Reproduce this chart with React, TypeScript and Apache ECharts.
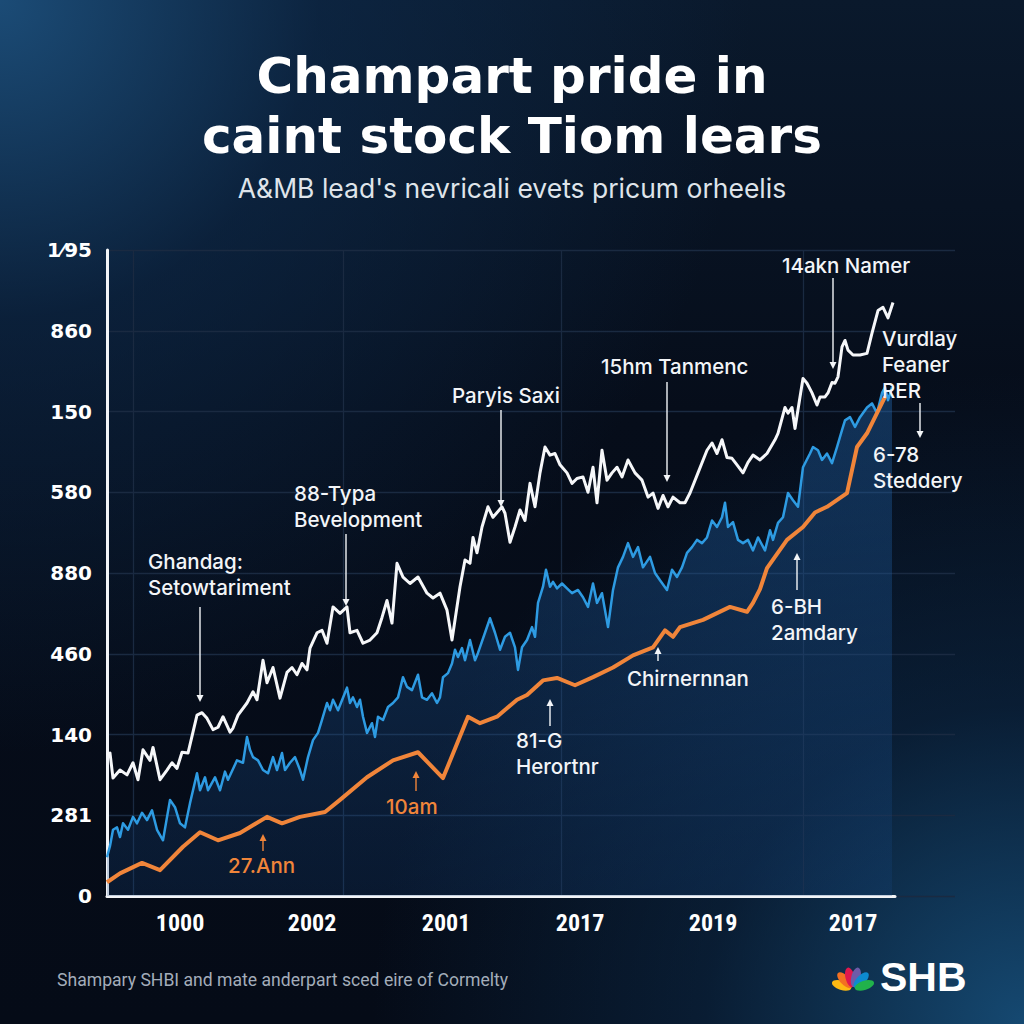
import React, { useEffect, useRef } from 'react';
import * as echarts from 'echarts';

// ---------- texts ----------
const titleLines = ['Champart pride in', 'caint stock Tiom lears'];
const subtitleText = "A&MB lead's nevricali evets pricum orheelis";
const footerText = 'Shampary SHBI and mate anderpart sced eire of Cormelty';
const brandText = 'SHB';

// ---------- axes ----------
const yTickLabels = ['0', '281', '140', '460', '880', '580', '150', '860', '1⁄95'];
const xTickValues = [73, 205, 339, 473, 606, 746];
const xTickLabels = ['1000', '2002', '2001', '2017', '2019', '2017'];
const xGridValues = [26, 236, 454, 696];

// ---------- series values [x, y] ----------
const whiteSeries = [
  [0,175],[3,177],[6,146],[13,156],[20,150],[26,165],[31,144],[36,181],[43,168],[46,184],[53,144],[60,156],[65,165],[70,158],[75,178],[81,177],[90,224],[95,227],[100,220],[106,206],[111,209],[116,222],[123,203],[126,208],[131,224],[140,239],[146,253],[150,243],[156,292],[160,264],[166,283],[173,245],[180,277],[185,283],[190,274],[195,288],[200,280],[203,307],[210,326],[215,329],[220,313],[226,358],[233,350],[240,358],[243,326],[250,329],[256,313],[263,317],[270,326],[275,345],[280,366],[285,338],[290,412],[296,395],[303,387],[311,395],[320,375],[326,369],[333,375],[340,354],[345,317],[353,383],[358,416],[363,412],[366,444],[370,425],[375,457],[381,482],[386,469],[395,482],[398,474],[403,438],[408,457],[413,478],[418,465],[423,511],[428,482],[433,524],[438,556],[443,546],[448,548],[453,534],[460,524],[465,511],[470,517],[476,519],[481,500],[486,531],[490,487],[495,552],[500,515],[505,524],[510,531],[515,519],[521,540],[528,524],[535,515],[541,494],[546,499],[551,480],[556,496],[561,482],[566,494],[573,487],[578,487],[583,499],[591,524],[600,552],[605,561],[610,548],[615,565],[620,543],[625,542],[630,534],[636,524],[641,537],[646,546],[653,540],[660,548],[668,565],[671,573],[678,605],[681,598],[685,605],[688,579],[693,618],[696,641],[700,635],[705,623],[710,608],[713,618],[718,618],[721,623],[725,636],[728,635],[731,643],[735,680],[738,688],[741,676],[746,670],[753,670],[760,672],[765,697],[771,725],[776,729],[781,716],[786,735]
];

const blueSeries = [
  [0,48],[3,62],[6,82],[10,85],[13,73],[16,90],[21,82],[26,98],[30,90],[35,103],[40,94],[45,106],[50,82],[56,69],[63,119],[68,110],[73,90],[78,85],[83,115],[90,152],[93,131],[98,147],[101,131],[108,147],[113,131],[118,154],[121,144],[130,168],[136,165],[140,197],[143,181],[146,172],[151,168],[156,156],[161,152],[166,172],[170,156],[175,177],[178,156],[183,165],[188,172],[193,156],[196,144],[201,172],[206,193],[211,202],[215,218],[220,239],[223,230],[226,243],[231,230],[240,258],[243,239],[246,246],[250,234],[253,243],[256,222],[260,202],[265,214],[268,197],[271,222],[276,218],[281,234],[286,239],[291,246],[296,271],[300,259],[305,255],[311,274],[315,246],[320,243],[325,251],[330,239],[333,246],[336,271],[341,276],[345,288],[348,305],[351,296],[355,307],[358,292],[363,317],[368,292],[371,301],[378,326],[383,344],[388,326],[393,305],[398,321],[403,326],[408,308],[411,280],[415,308],[420,317],[425,333],[428,321],[431,363],[436,383],[439,404],[443,383],[446,389],[450,381],[455,387],[460,381],[465,375],[471,379],[476,370],[481,358],[486,387],[490,363],[495,375],[501,333],[506,379],[511,407],[516,420],[521,437],[526,420],[531,432],[536,407],[543,420],[548,400],[553,391],[560,379],[565,404],[570,395],[575,407],[580,425],[585,432],[590,441],[595,437],[600,444],[605,465],[610,457],[615,469],[618,487],[621,457],[626,463],[631,441],[636,437],[641,441],[646,428],[651,444],[658,428],[663,453],[666,441],[671,462],[676,469],[681,499],[686,490],[691,482],[696,531],[703,548],[706,556],[711,552],[715,540],[720,548],[725,536],[730,556],[735,577],[738,589],[743,593],[748,581],[753,593],[760,605],[765,610],[770,598],[775,623],[778,630],[781,614],[785,630]
];

const orangeSeries = [
  [0,17],[13,28],[35,41],[53,32],[76,61],[93,79],[111,69],[133,78],[160,98],[175,90],[193,98],[218,104],[233,119],[260,147],[286,168],[311,178],[336,146],[361,222],[373,214],[390,222],[410,243],[420,249],[436,267],[450,270],[468,261],[486,271],[506,283],[526,298],[546,308],[558,329],[566,321],[573,333],[596,342],[623,358],[640,352],[646,363],[653,380],[660,406],[680,441],[696,457],[708,475],[720,482],[740,499],[750,556],[760,573],[778,618]
];

// ---------- annotations (layout) ----------
type Note = { text: string; x: number; y: number; color: string; arrow?: [number, number, number] };
const WHITE = '#f3f5f8';
const ORANGE = '#f0853a';
const notes: Note[] = [
  { text: 'Ghandag:\nSetowtariment', x: 148, y: 561, color: WHITE, arrow: [200, 607, 702] },
  { text: '88-Typa\nBevelopment', x: 294, y: 493, color: WHITE, arrow: [346, 534, 606] },
  { text: 'Paryis Saxi', x: 452, y: 395, color: WHITE, arrow: [501, 410, 507] },
  { text: '15hm Tanmenc', x: 601, y: 366, color: WHITE, arrow: [667, 382, 482] },
  { text: '14akn Namer', x: 782, y: 265, color: WHITE, arrow: [833, 278, 369] },
  { text: 'Vurdlay\nFeaner\nRER', x: 882, y: 338, color: WHITE, arrow: [920, 403, 438] },
  { text: '6-78\nSteddery', x: 873, y: 454, color: WHITE },
  { text: '6-BH\n2amdary', x: 771, y: 606, color: WHITE, arrow: [797, 590, 553] },
  { text: 'Chirnernnan', x: 627, y: 678, color: WHITE, arrow: [658, 661, 647] },
  { text: '81-G\nHerortnr', x: 516, y: 740, color: WHITE, arrow: [550, 726, 699] },
  { text: '10am', x: 386, y: 806, color: ORANGE, arrow: [416, 791, 771] },
  { text: '27.Ann', x: 228, y: 865, color: ORANGE, arrow: [263, 851, 834] },
];

const peacockColors = ['#fdb913', '#f37021', '#e0184d', '#6e5ba8', '#0d8ad0', '#21b24b'];
const peacockAngles = [-72, -43, -14, 14, 43, 72];

function buildGraphics() {
  const g: any[] = [];
  const annoFont = 'Inter, "Noto Sans", sans-serif';
  const lh = 26;
  notes.forEach((n) => {
    g.push({
      type: 'text',
      x: n.x,
      y: n.y - lh / 2,
      z: 10,
      style: {
        text: n.text,
        fill: n.color,
        fontFamily: annoFont,
        fontSize: 20.5,
        fontWeight: 500,
        lineHeight: lh,
        align: 'left',
        verticalAlign: 'top',
      },
    });
    if (n.arrow) {
      const [ax, y1, y2] = n.arrow;
      const dir = y2 > y1 ? 1 : -1;
      g.push({
        type: 'line',
        z: 10,
        shape: { x1: ax, y1, x2: ax, y2: y2 - dir * 5 },
        style: { stroke: n.color, lineWidth: 1.4 },
      });
      g.push({
        type: 'polygon',
        z: 10,
        shape: { points: [[ax - 3.5, y2 - dir * 7], [ax + 3.5, y2 - dir * 7], [ax, y2]] },
        style: { fill: n.color },
      });
    }
  });

  // title: two separate lines
  titleLines.forEach((t, i) => {
    g.push({
      type: 'text',
      x: 512,
      y: 76 + i * 60,
      style: {
        text: t,
        fill: '#ffffff',
        fontFamily: '"DejaVu Sans", sans-serif',
        fontWeight: 700,
        fontSize: 50,
        align: 'center',
        verticalAlign: 'middle',
      },
    });
  });
  g.push({
    type: 'text',
    x: 512,
    y: 188,
    style: {
      text: subtitleText,
      fill: '#dfe4ea',
      fontFamily: 'Inter, "Liberation Sans", sans-serif',
      fontWeight: 400,
      fontSize: 26.5,
      align: 'center',
      verticalAlign: 'middle',
    },
  });
  g.push({
    type: 'text',
    x: 57,
    y: 980,
    style: {
      text: footerText,
      fill: '#a3adba',
      fontFamily: 'Roboto, sans-serif',
      fontSize: 17.6,
      align: 'left',
      verticalAlign: 'middle',
    },
  });
  // brand
  const bx = 853, by = 989;
  peacockAngles.forEach((a, i) => {
    const r = (a * Math.PI) / 180;
    g.push({
      type: 'ellipse',
      x: bx + 12 * Math.sin(r),
      y: by - 12 * Math.cos(r),
      rotation: -r,
      shape: { cx: 0, cy: 0, rx: 4.6, ry: 10 },
      style: { fill: peacockColors[i] },
    });
  });
  g.push({
    type: 'text',
    x: 880,
    y: 977,
    style: {
      text: brandText,
      fill: '#ffffff',
      fontFamily: '"Liberation Sans", Arial, sans-serif',
      fontWeight: 700,
      fontSize: 41,
      align: 'left',
      verticalAlign: 'middle',
    },
  });
  return g;
}

export default function App() {
  const ref = useRef<HTMLDivElement>(null);
  useEffect(() => {
    if (!ref.current) return;
    const chart = echarts.init(ref.current, undefined, { renderer: 'svg' });
    const gridColor = '#1a2a41';
    chart.setOption({
      animation: false,
      backgroundColor: 'transparent',
      grid: [
        { left: 107, top: 250, width: 788, height: 646 },
        { left: 107, top: 250, width: 848, height: 646 },
      ],
      xAxis: [
        {
          gridIndex: 0,
          type: 'value',
          min: 0,
          max: 788,
          axisLine: { show: true, lineStyle: { color: '#f2f4f7', width: 3 } },
          axisTick: { show: false, customValues: xGridValues },
          splitLine: { show: true, lineStyle: { color: gridColor, width: 1.3 } },
          axisLabel: {
            customValues: xTickValues,
            formatter: (v: number) => {
              const i = xTickValues.indexOf(v);
              return i >= 0 ? xTickLabels[i] : '';
            },
            color: '#ffffff',
            fontFamily: '"Liberation Sans Narrow", "Roboto Condensed", Roboto, sans-serif',
            fontWeight: 'bold',
            fontSize: 24,
            margin: 15,
          },
        },
        { gridIndex: 1, type: 'value', min: 0, max: 1, show: false },
      ],
      yAxis: [
        {
          gridIndex: 0,
          type: 'value',
          min: 0,
          max: 800,
          interval: 100,
          axisLine: { show: true, lineStyle: { color: '#f2f4f7', width: 3 } },
          axisTick: { show: false },
          splitLine: { show: false },
          axisLabel: {
            formatter: (v: number) => yTickLabels[Math.round(v / 100)] ?? '',
            color: '#ffffff',
            fontFamily: '"DejaVu Sans", sans-serif',
            fontWeight: 'bold',
            fontSize: 20,
            margin: 15,
          },
        },
        {
          gridIndex: 1,
          type: 'value',
          min: 0,
          max: 800,
          interval: 100,
          axisLine: { show: false },
          axisTick: { show: false },
          axisLabel: { show: false },
          splitLine: { show: true, lineStyle: { color: gridColor, width: 1.3 } },
        },
      ],
      series: [
        {
          type: 'line',
          xAxisIndex: 0,
          yAxisIndex: 0,
          data: blueSeries,
          symbol: 'none',
          z: 3,
          lineStyle: { color: '#2e9be2', width: 2.5, join: 'round' },
          areaStyle: {
            color: new echarts.graphic.LinearGradient(0, 0, 0, 1, [
              { offset: 0, color: 'rgba(38,115,195,0.52)' },
              { offset: 1, color: 'rgba(22,70,130,0.32)' },
            ]),
          },
        },
        {
          type: 'line',
          xAxisIndex: 0,
          yAxisIndex: 0,
          data: whiteSeries,
          symbol: 'none',
          z: 4,
          lineStyle: { color: '#f6f7f9', width: 3, join: 'round' },
        },
        {
          type: 'line',
          xAxisIndex: 0,
          yAxisIndex: 0,
          data: orangeSeries,
          symbol: 'none',
          z: 5,
          lineStyle: { color: '#f0853a', width: 4, join: 'round' },
        },
      ],
      graphic: buildGraphics(),
    });
    return () => chart.dispose();
  }, []);

  return (
    <div
      style={{
        position: 'fixed',
        left: 0,
        top: 0,
        width: 1024,
        height: 1024,
        background:
          'radial-gradient(circle at 0% 0%, rgba(28,78,122,0.95) 0%, rgba(14,45,80,0.55) 22%, rgba(6,14,28,0) 52%),' +
          'radial-gradient(circle at 100% 100%, rgba(22,76,118,0.95) 0%, rgba(14,50,85,0.45) 22%, rgba(6,14,28,0) 45%),' +
          'linear-gradient(180deg, #0a192c 0%, #060d1a 40%, #050b17 100%)',
      }}
    >
      <div ref={ref} style={{ width: 1024, height: 1024 }} />
    </div>
  );
}
